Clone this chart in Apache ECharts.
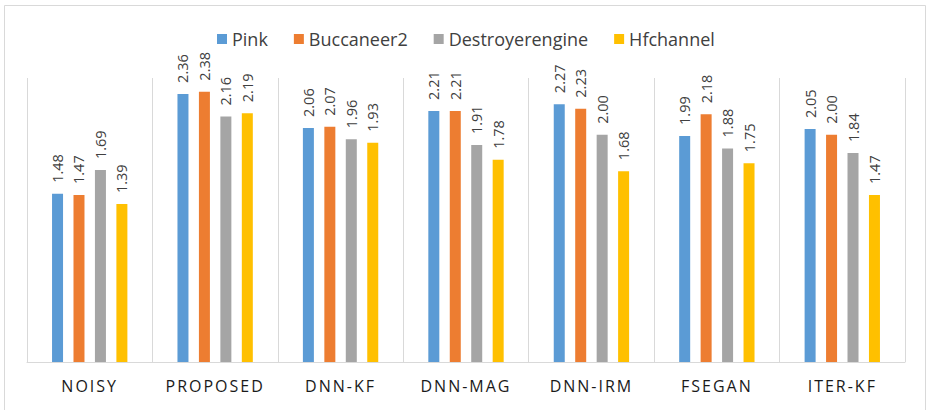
<!DOCTYPE html>
<html>
<head>
<meta charset="utf-8">
<script src="https://cdn.jsdelivr.net/npm/echarts@6/dist/echarts.min.js"></script>
<style>
  html, body { margin: 0; padding: 0; background: #ffffff; }
  #chart { width: 926px; height: 410px; }
</style>
</head>
<body>
<div id="chart"></div>
<script>
// Methods compared on the x axis
const categories = ['NOISY', 'PROPOSED', 'DNN-KF', 'DNN-MAG', 'DNN-IRM', 'FSEGAN', 'ITER-KF'];

// Scores per noise type
const pink            = [1.48, 2.36, 2.06, 2.21, 2.27, 1.99, 2.05];
const buccaneer2      = [1.47, 2.38, 2.07, 2.21, 2.23, 2.18, 2.00];
const destroyerengine = [1.69, 2.16, 1.96, 1.91, 2.00, 1.88, 1.84];
const hfchannel       = [1.39, 2.19, 1.93, 1.78, 1.68, 1.75, 1.47];

const seriesNames = ['Pink', 'Buccaneer2', 'Destroyerengine', 'Hfchannel'];
const seriesData = [pink, buccaneer2, destroyerengine, hfchannel];
const colors = ['#5B9BD5', '#ED7D31', '#A5A5A5', '#FFC000'];

const FONT = '"Open Sans", "Noto Sans", sans-serif';

const chart = echarts.init(document.getElementById('chart'), null, { renderer: 'svg' });

const series = seriesNames.map((name, i) => ({
  name: name,
  type: 'bar',
  data: seriesData[i],
  barWidth: 11,
  barGap: '95%',
  itemStyle: { color: colors[i] },
  label: {
    show: true,
    position: 'top',
    rotate: 90,
    align: 'left',
    verticalAlign: 'middle',
    distance: 11,
    color: '#404040',
    fontFamily: FONT,
    fontSize: 14.5,
    formatter: p => p.value.toFixed(2)
  }
}));

chart.setOption({
  animation: false,
  color: colors,
  graphic: [{
    type: 'rect',
    silent: true,
    shape: { x: 4.5, y: 5.5, width: 921, height: 430 },
    style: { fill: 'none', stroke: '#d9d9d9', lineWidth: 1 }
  }],
  legend: {
    left: 212,
    top: 25,
    itemWidth: 10,
    itemHeight: 10,
    itemGap: 26,
    icon: 'rect',
    textStyle: { color: '#404040', fontFamily: FONT, fontSize: 18 },
    data: seriesNames
  },
  grid: { left: 27, right: 21, top: 78, bottom: 48, containLabel: false },
  xAxis: {
    type: 'category',
    data: categories,
    boundaryGap: true,
    axisLine: { lineStyle: { color: '#d9d9d9', width: 1 } },
    axisTick: { show: false },
    splitLine: { show: true, lineStyle: { color: '#d9d9d9', width: 1 } },
    axisLabel: {
      color: '#1a1a1a',
      fontFamily: FONT,
      fontSize: 16,
      margin: 16
    }
  },
  yAxis: {
    type: 'value',
    min: 0,
    max: 2.5,
    show: false,
    splitLine: { show: false }
  },
  series: series
});

// Spread the letters of the category labels
function spaceAxisLabels() {
  const texts = document.querySelectorAll('#chart svg text');
  texts.forEach(t => {
    if (categories.indexOf(t.textContent) >= 0) {
      t.style.letterSpacing = '2px';
    }
  });
}
chart.on('finished', spaceAxisLabels);
spaceAxisLabels();
setTimeout(spaceAxisLabels, 0);
setTimeout(spaceAxisLabels, 100);
</script>
</body>
</html>
